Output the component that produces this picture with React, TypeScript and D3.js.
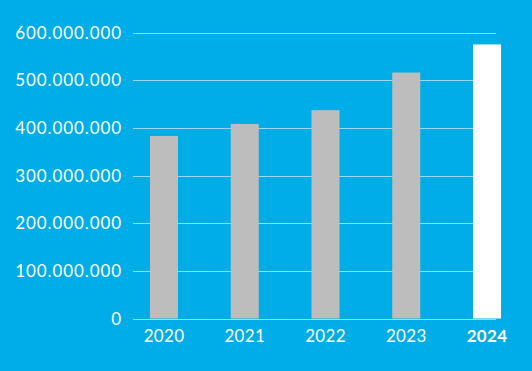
import React, { useEffect, useRef } from "react";
import * as d3 from "d3";

const years = ["2020", "2021", "2022", "2023", "2024"];
const values = [383000000, 408000000, 437000000, 516000000, 575000000];
const yTicks = [0, 100000000, 200000000, 300000000, 400000000, 500000000, 600000000];

const fmt = (v: number) => (v === 0 ? "0" : d3.format(",")(v).replace(/,/g, "."));

const App = () => {
  const svgRef = useRef<SVGSVGElement>(null);

  useEffect(() => {
    document.body.style.margin = "0";
    const width = 532;
    const height = 371;
    const font = "Lato, 'DejaVu Sans', sans-serif";

    const svg = d3.select(svgRef.current);
    svg.selectAll("*").remove();
    svg.attr("width", width).attr("height", height);

    svg.append("rect").attr("width", width).attr("height", height).attr("fill", "#00ADE6");

    const y = d3.scaleLinear().domain([0, 600000000]).range([318.5, 32.5]);
    const x = d3
      .scaleBand()
      .domain(years)
      .range([123.6, 527.4])
      .paddingInner(0.653)
      .paddingOuter(0.3265);

    // gridlines
    svg
      .append("g")
      .selectAll("line")
      .data(yTicks)
      .join("line")
      .attr("x1", 133)
      .attr("x2", 496)
      .attr("y1", (d) => Math.round(y(d)) + 0.5)
      .attr("y2", (d) => Math.round(y(d)) + 0.5)
      .attr("stroke", "#9ad9f2")
      .attr("stroke-width", 1);

    // y labels
    svg
      .append("g")
      .selectAll("text")
      .data(yTicks)
      .join("text")
      .attr("x", 122)
      .attr("y", (d) => y(d) + 6)
      .attr("text-anchor", "end")
      .attr("fill", "#ffffff")
      .attr("font-family", font)
      .attr("font-size", 17)
      .attr("letter-spacing", 0.9)
      .text((d) => fmt(d));

    // bars
    svg
      .append("g")
      .selectAll("rect")
      .data(values)
      .join("rect")
      .attr("x", (d, i) => x(years[i])!)
      .attr("width", x.bandwidth())
      .attr("y", (d) => y(d))
      .attr("height", (d) => y(0) - y(d))
      .attr("fill", (d, i) => (i === years.length - 1 ? "#ffffff" : "#bdbdbd"));

    // x labels
    svg
      .append("g")
      .selectAll("text")
      .data(years)
      .join("text")
      .attr("x", (d) => x(d)! + x.bandwidth() / 2)
      .attr("y", 342)
      .attr("text-anchor", "middle")
      .attr("fill", "#ffffff")
      .attr("font-family", font)
      .attr("font-size", 17)
      .attr("letter-spacing", 0.3)
      .attr("font-weight", (d, i) => (i === years.length - 1 ? "bold" : "normal"))
      .text((d) => d);
  }, []);

  return <svg ref={svgRef}></svg>;
};

export default App;
